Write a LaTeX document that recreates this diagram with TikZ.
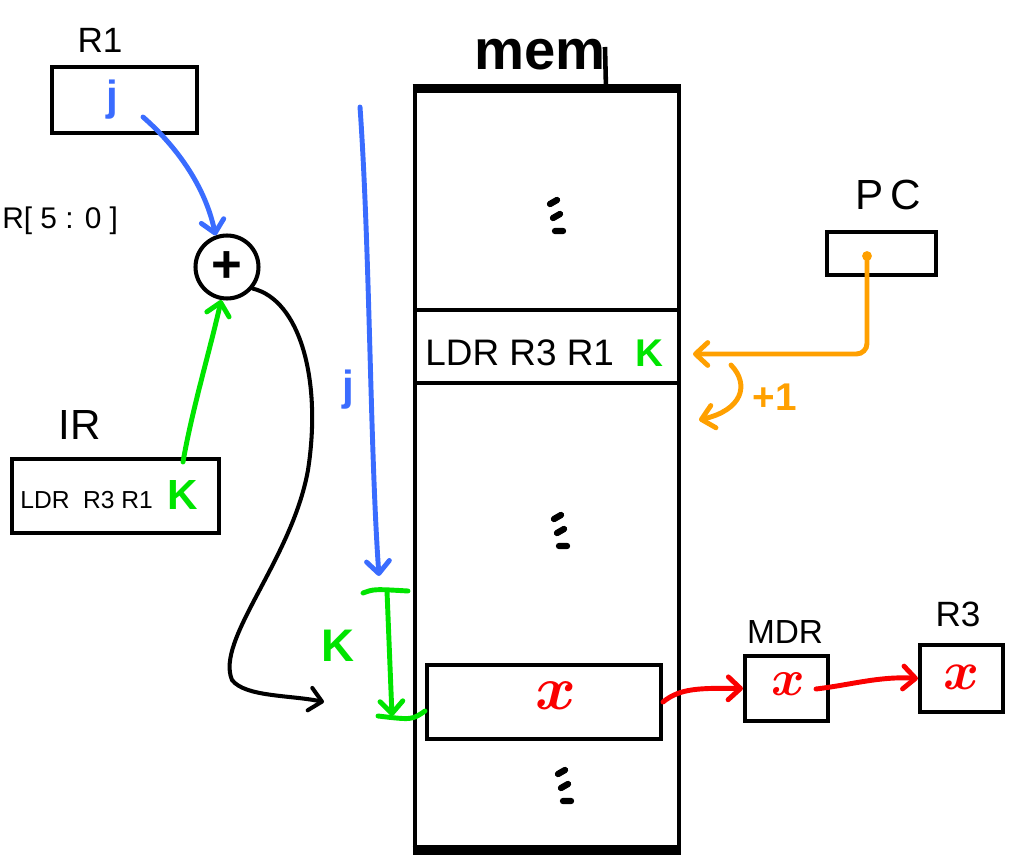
\documentclass[tikz,border=0pt]{standalone}
\usepackage{fontspec}
\setmainfont{Liberation Sans}
\usetikzlibrary{arrows.meta,calc}
\definecolor{penblue}{RGB}{58,108,255}
\definecolor{pengreen}{RGB}{0,228,0}
\definecolor{penred}{RGB}{250,0,0}
\definecolor{penorange}{RGB}{255,160,0}

\begin{document}
\begin{tikzpicture}[x=0.02cm,y=-0.02cm]
\tikzset{
  regbox/.style={draw,line width=2.3pt,inner sep=0pt},
  reglabel/.style={inner sep=0pt,font=\fontsize{20}{22}\selectfont},
  valx/.style={text=penred,inner sep=0pt,font=\fontsize{20}{20}\selectfont\boldmath},
  handarrow/.style={-{Straight Barb[round,length=7pt,width=13pt]},line width=2.8pt,line cap=round},
  handline/.style={line width=2.8pt,line cap=round}
}
\useasboundingbox (0,0) rectangle (1013,857);
% registers on the left
\node[reglabel] (l_R1) at (100,40) {R1};
\node[regbox,minimum width=2.9cm,minimum height=1.32cm] (n_R1) at (124.5,100) {};
\node[text=penblue,font=\fontsize{24}{26}\selectfont\bfseries] (t_R1j) at (112,100) {j};
\node[anchor=base west,inner sep=0pt,font=\fontsize{17}{19}\selectfont] (l_slice) at (2,229) {R[ 5 : 0 ]};
\node[draw,circle,line width=2.3pt,minimum size=1.26cm,inner sep=0pt,font=\fontsize{30}{30}\selectfont\bfseries] (n_plus) at (227,267) {+};
\node[reglabel,font=\fontsize{24}{26}\selectfont] (l_IR) at (80,425) {IR};
\node[regbox,minimum width=4.14cm,minimum height=1.48cm] (n_IR) at (115.5,496) {};
\node[anchor=west,inner sep=0pt,font=\fontsize{14}{16}\selectfont] (t_IRop) at (20,500) {LDR\ \ R3 R1};
\node[text=pengreen,font=\fontsize{24}{26}\selectfont\bfseries] (t_IRk) at (183,495) {K};
% memory
\node[draw,line width=2.8pt,minimum width=5.28cm,minimum height=15.16cm,inner sep=0pt] (n_mem) at (547,469) {};
\draw[line width=4.5pt] (n_mem.north west) -- (n_mem.north east);
\draw[line width=5pt] (n_mem.south west) -- (n_mem.south east);
\node[inner sep=0pt,font=\fontsize{32}{34}\selectfont\bfseries] (l_mem) at (540,55) {mem};
\draw[line width=2.6pt] ($(l_mem.east)+(-1,-8)$) -- (l_mem.east |- n_mem.north);
\node[draw,line width=2.4pt,minimum width=5.28cm,minimum height=1.46cm,inner sep=0pt] (n_instr) at (547,346.5) {};
\node[anchor=west,inner sep=0pt,font=\fontsize{21}{23}\selectfont] (t_instr) at (425,353) {LDR R3 R1};
\node[text=pengreen,inner sep=0pt,font=\fontsize{22}{24}\selectfont\bfseries] (t_instrk) at (649,353) {K};
\node[regbox,minimum width=4.68cm,minimum height=1.48cm] (n_x) at (544,702) {};
\node[valx,scale=1.7] (t_x) at (556,696) {$x$};
\foreach \px/\py in {556/216, 560/531, 564/786}{
  \draw[line width=3.6pt,line cap=round] (\px-6,\py-12) -- ++(7,-4) (\px-3,\py+2) -- ++(7,-4) (\px-1,\py+15) -- ++(8,0);
}
% registers on the right
\node[reglabel,font=\fontsize{24}{26}\selectfont] (l_PC) at (888,195) {P\,C};
\node[regbox,minimum width=2.18cm,minimum height=0.86cm] (n_PC) at (881.5,253.5) {};
\node[reglabel,font=\fontsize{19}{21}\selectfont] (l_MDR) at (785,632) {MDR};
\node[regbox,minimum width=1.66cm,minimum height=1.30cm] (n_MDR) at (786.5,688.5) {};
\node[valx,scale=1.4] (t_MDRx) at (788,684) {$x$};
\node[reglabel] (l_R3) at (958,614) {R3};
\node[regbox,minimum width=1.66cm,minimum height=1.34cm] (n_R3) at (961.5,678.5) {};
\node[valx,scale=1.5] (t_R3x) at (961,677) {$x$};
% address path
\coordinate (c_R1j) at (143,117);
\coordinate (c_IRk) at (183,462);
\coordinate (c_addr) at (324,702);
\draw[handarrow,penblue] (c_R1j) .. controls (175,145) and (205,185) .. (n_plus.110);
\draw[handarrow,pengreen] (c_IRk) .. controls (192,410) and (210,350) .. (n_plus.260);
\draw[handarrow,line width=2.3pt] (n_plus.-40) .. controls (300,300) and (322,380) .. (308,470) .. controls (292,560) and (215,640) .. (232,680) .. controls (245,697) and (290,695) .. (c_addr);
% offsets j and K
\coordinate (c_jtop) at (360,107);
\coordinate (c_jbot) at (379,576);
\draw[handarrow,penblue] (c_jtop) .. controls (370,250) and (370,450) .. (c_jbot);
\node[text=penblue,font=\fontsize{24}{26}\selectfont\bfseries] (t_j) at (348,390) {j};
\coordinate (c_kleft) at (363,593);
\coordinate (c_kright) at (408,591);
\coordinate (c_ktop) at (387,591);
\coordinate (c_kbot) at (392,716);
\coordinate (c_kfoot) at (378,716);
\draw[handline,pengreen] (c_kleft) .. controls (374,589) .. (c_kright);
\draw[handarrow,pengreen] (c_ktop) -- (c_kbot);
\draw[handline,pengreen] (c_kfoot) .. controls (412,720) .. ($(n_x.west)+(0,9)$);
\node[text=pengreen,font=\fontsize{26}{28}\selectfont\bfseries] (t_k) at (338,646) {K};
% data path
\coordinate (c_MDRx) at (816,689);
\draw[handarrow,penred] (n_x.east) .. controls (680,688) and (700,688) .. (n_MDR.west);
\draw[handarrow,penred] (c_MDRx) .. controls (850,685) and (880,676) .. (n_R3.west);
% program counter
\coordinate (c_pc) at (867,256);
\coordinate (c_pcin) at (693,354);
\coordinate (c_incA) at (731,365);
\coordinate (c_incB) at (699,420);
\fill[penorange] (c_pc) circle (2.8pt);
\draw[handarrow,penorange,rounded corners=6pt] (c_pc) -- (c_pc |- c_pcin) -- (c_pcin);
\draw[handarrow,penorange] (c_incA) .. controls (750,385) and (742,410) .. (c_incB);
\node[text=penorange,font=\fontsize{22}{24}\selectfont\bfseries] (t_inc) at (775,397) {+1};
\end{tikzpicture}
\end{document}
